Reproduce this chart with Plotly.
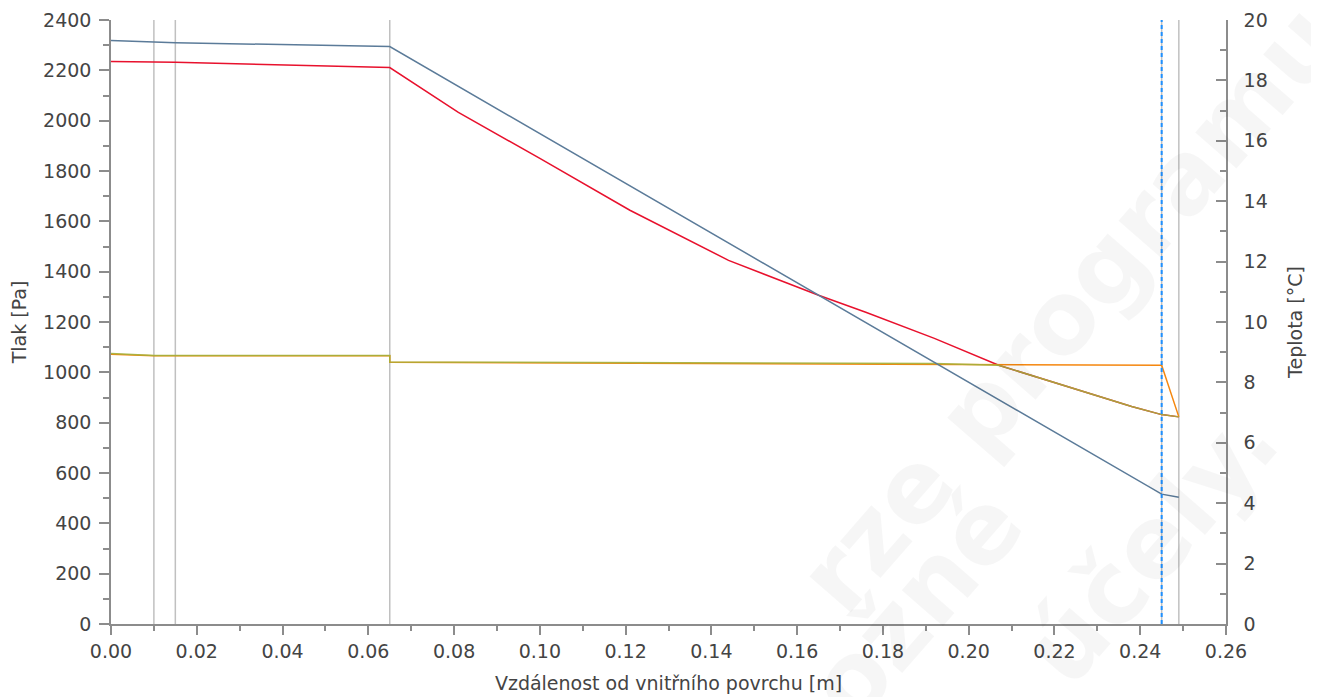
import plotly.graph_objects as go

# layer boundaries [m]
boundaries = [0.01, 0.015, 0.065, 0.245, 0.249]
condensation_edge = 0.245

# temperature [°C]
x_temp = [0, 0.01, 0.015, 0.065, 0.245, 0.249]
temp = [19.32, 19.26, 19.25, 19.12, 4.30, 4.20]

# saturated vapour pressure [Pa]
x_psat = [0, 0.01, 0.015, 0.065, 0.081, 0.100, 0.121, 0.144, 0.165, 0.176,
          0.192, 0.207, 0.223, 0.238, 0.245, 0.249]
p_sat = [2235, 2233, 2232, 2211, 2033, 1850, 1644, 1445, 1306, 1239,
         1135, 1028, 943, 864, 832, 823]

# partial vapour pressure without condensation [Pa]
x_p1 = [0, 0.01, 0.015, 0.065, 0.065, 0.192, 0.207, 0.245, 0.249]
p1 = [1072, 1066, 1066, 1066, 1040, 1031, 1028, 1028, 823]

# partial vapour pressure with condensation [Pa]
x_p2 = [0, 0.01, 0.015, 0.065, 0.065, 0.192, 0.207, 0.223, 0.238, 0.245, 0.249]
p2 = [1075, 1067, 1067, 1067, 1041, 1035, 1028, 943, 864, 832, 823]

font = "DejaVu Sans"
txt = "#444444"
axc = "#8c8c8c"

fig = go.Figure()

fig.add_trace(go.Scatter(x=x_psat, y=p_sat, mode="lines",
                         line=dict(color="#e8112d", width=1.5)))
fig.add_trace(go.Scatter(x=x_p1, y=p1, mode="lines",
                         line=dict(color="#f5870f", width=1.5)))
fig.add_trace(go.Scatter(x=x_p2, y=p2, mode="lines", opacity=0.9,
                         line=dict(color="#a4b23e", width=1.5)))
fig.add_trace(go.Scatter(x=x_temp, y=temp, mode="lines", yaxis="y2",
                         line=dict(color="#5b7b99", width=1.5)))

shapes = []
for b in boundaries:
    shapes.append(dict(type="line", xref="x", yref="paper", x0=b, x1=b, y0=0, y1=1,
                       line=dict(color="#c0c0c0", width=1.5), layer="below"))
shapes.append(dict(type="line", xref="x", yref="paper", x0=condensation_edge,
                   x1=condensation_edge, y0=0, y1=1,
                   line=dict(color="#1e90ff", width=2, dash="4px,3px")))

# faint watermark (only the parts that show in the chart)
wm = dict(xref="paper", yref="paper", showarrow=False, textangle=-49,
          xanchor="center", yanchor="middle",
          font=dict(family=font, size=100, color="rgba(0,0,0,0.035)", weight="bold"))
annotations = [
    dict(text="rze programu.", x=(1082 - 111) / 1115, y=(624 - 293) / 604.5, **wm),
    dict(text="ožné", x=(915 - 111) / 1115, y=(624 - 605) / 604.5, **wm),
    dict(text="účely.", x=(1150 - 111) / 1115, y=(624 - 545) / 604.5, **wm),
]

# the page body adds an 8 px offset, so the figure is 8 px smaller
fig.update_layout(
    width=1311, height=689,
    margin=dict(l=103, r=93, t=12, b=73),
    plot_bgcolor="white", paper_bgcolor="white",
    showlegend=False,
    shapes=shapes,
    annotations=annotations,
    font=dict(family=font, size=19, color=txt),
    xaxis=dict(
        range=[0, 0.26], dtick=0.02, tickformat=".2f", automargin=False,
        showgrid=False, zeroline=False,
        showline=True, linecolor=axc, linewidth=1.5,
        ticks="outside", ticklen=9, tickcolor=axc, tickwidth=1.5,
        minor=dict(dtick=0.01, ticks="outside", ticklen=5, tickcolor=axc, tickwidth=1.5),
        title=dict(text="Vzdálenost od vnitřního povrchu [m]", standoff=16,
                   font=dict(size=19, color=txt)),
        tickfont=dict(size=19, color=txt),
    ),
    yaxis=dict(
        range=[0, 2400], dtick=200, automargin=False,
        showgrid=False, zeroline=False,
        showline=True, linecolor=axc, linewidth=1.5,
        ticks="outside", ticklen=10, tickcolor=axc, tickwidth=1.5,
        minor=dict(dtick=100, ticks="outside", ticklen=6, tickcolor=axc, tickwidth=1.5),
        ticklabelstandoff=4,
        title=dict(text="Tlak [Pa]", standoff=12, font=dict(size=19, color=txt)),
        tickfont=dict(size=19, color=txt),
    ),
    yaxis2=dict(
        range=[0, 20], dtick=2, overlaying="y", side="right", anchor="x",
        automargin=False,
        showgrid=False, zeroline=False,
        showline=True, linecolor=axc, linewidth=1.5,
        ticks="inside", ticklen=10, tickcolor=axc, tickwidth=1.5,
        minor=dict(dtick=1, ticks="inside", ticklen=6, tickcolor=axc, tickwidth=1.5),
        ticklabelstandoff=12,
        title=dict(text="Teplota [°C]", standoff=22, font=dict(size=19, color=txt)),
        tickfont=dict(size=19, color=txt),
    ),
)

fig.write_html("out.html")
